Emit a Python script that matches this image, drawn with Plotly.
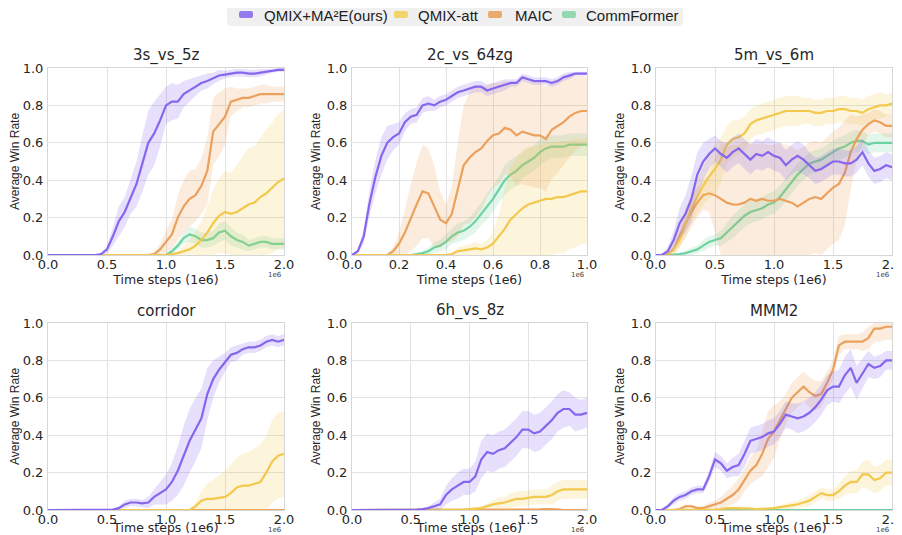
import plotly.graph_objects as go

# ---------------- data ----------------
X_2M = [0.0, 0.05, 0.1, 0.15, 0.2, 0.25, 0.3, 0.35, 0.4, 0.45,
        0.5, 0.55, 0.6, 0.65, 0.7, 0.75, 0.8, 0.85, 0.9, 0.95,
        1.0, 1.05, 1.1, 1.15, 1.2, 1.25, 1.3, 1.35, 1.4, 1.45,
        1.5, 1.55, 1.6, 1.65, 1.7, 1.75, 1.8, 1.85, 1.9, 1.95, 2.0]
X_1M = [0.0, 0.025, 0.05, 0.075, 0.1, 0.125, 0.15, 0.175, 0.2, 0.225,
        0.25, 0.275, 0.3, 0.325, 0.35, 0.375, 0.4, 0.425, 0.45, 0.475,
        0.5, 0.525, 0.55, 0.575, 0.6, 0.625, 0.65, 0.675, 0.7, 0.725,
        0.75, 0.775, 0.8, 0.825, 0.85, 0.875, 0.9, 0.925, 0.95, 0.975, 1.0]

SERIES_NAMES = ["QMIX+MA²E(ours)", "QMIX-att", "MAIC", "CommFormer"]
MAP_TITLES = ["3s_vs_5z", "2c_vs_64zg", "5m_vs_6m", "corridor", "6h_vs_8z", "MMM2"]
X_TICKS_2M = [0.0, 0.5, 1.0, 1.5, 2.0]
X_TICKS_1M = [0.0, 0.2, 0.4, 0.6, 0.8, 1.0]
Y_TICKS = [0.0, 0.2, 0.4, 0.6, 0.8, 1.0]

# 3s_vs_5z
S3S5Z_MA2E = [0, 0, 0, 0, 0, 0, 0, 0, 0, 0.005,
              0.03, 0.10, 0.18, 0.23, 0.31, 0.38, 0.49, 0.60, 0.65, 0.72,
              0.80, 0.82, 0.82, 0.86, 0.88, 0.90, 0.92, 0.93, 0.945, 0.96,
              0.965, 0.97, 0.975, 0.975, 0.97, 0.97, 0.975, 0.98, 0.985, 0.99, 0.99]
S3S5Z_MA2E_SD = [0, 0, 0, 0, 0, 0, 0, 0, 0, 0.005,
                 0.02, 0.05, 0.08, 0.08, 0.09, 0.12, 0.15, 0.17, 0.17, 0.14,
                 0.10, 0.10, 0.09, 0.07, 0.06, 0.05, 0.04, 0.04, 0.03, 0.03,
                 0.02, 0.02, 0.02, 0.02, 0.02, 0.02, 0.02, 0.015, 0.01, 0.01, 0.01]
S3S5Z_ATT = [0, 0, 0, 0, 0, 0, 0, 0, 0, 0,
             0, 0, 0, 0, 0, 0, 0, 0, 0, 0,
             0, 0.005, 0.01, 0.02, 0.03, 0.05, 0.08, 0.12, 0.17, 0.21,
             0.23, 0.22, 0.23, 0.25, 0.27, 0.28, 0.31, 0.33, 0.36, 0.39, 0.41]
S3S5Z_ATT_SD = [0, 0, 0, 0, 0, 0, 0, 0, 0, 0,
                0, 0, 0, 0, 0, 0, 0, 0, 0, 0,
                0, 0.005, 0.01, 0.03, 0.05, 0.08, 0.10, 0.14, 0.18, 0.20,
                0.22, 0.22, 0.25, 0.28, 0.30, 0.30, 0.32, 0.34, 0.35, 0.36, 0.37]
S3S5Z_MAIC = [0, 0, 0, 0, 0, 0, 0, 0, 0, 0,
              0, 0, 0, 0, 0, 0, 0, 0, 0.005, 0.03,
              0.07, 0.11, 0.20, 0.26, 0.30, 0.32, 0.37, 0.45, 0.66, 0.70,
              0.74, 0.82, 0.83, 0.84, 0.84, 0.85, 0.86, 0.86, 0.86, 0.86, 0.86]
S3S5Z_MAIC_SD = [0, 0, 0, 0, 0, 0, 0, 0, 0, 0,
                 0, 0, 0, 0, 0, 0, 0, 0, 0.01, 0.03,
                 0.06, 0.08, 0.12, 0.14, 0.15, 0.14, 0.15, 0.18, 0.18, 0.17,
                 0.15, 0.08, 0.06, 0.05, 0.05, 0.05, 0.05, 0.05, 0.04, 0.04, 0.04]
S3S5Z_COMM = [0, 0, 0, 0, 0, 0, 0, 0, 0, 0,
              0, 0, 0, 0, 0, 0, 0, 0, 0, 0,
              0, 0.02, 0.05, 0.09, 0.11, 0.10, 0.08, 0.08, 0.09, 0.12,
              0.13, 0.10, 0.08, 0.07, 0.05, 0.06, 0.07, 0.07, 0.06, 0.06, 0.06]
S3S5Z_COMM_SD = [0, 0, 0, 0, 0, 0, 0, 0, 0, 0,
                 0, 0, 0, 0, 0, 0, 0, 0, 0, 0,
                 0, 0.01, 0.02, 0.03, 0.04, 0.04, 0.04, 0.04, 0.04, 0.05,
                 0.05, 0.05, 0.04, 0.04, 0.03, 0.03, 0.03, 0.03, 0.03, 0.03, 0.03]

# 2c_vs_64zg
S2C64ZG_MA2E = [0, 0.02, 0.10, 0.28, 0.42, 0.53, 0.60, 0.63, 0.65, 0.71,
                0.74, 0.75, 0.80, 0.81, 0.80, 0.82, 0.83, 0.85, 0.87, 0.88,
                0.89, 0.90, 0.90, 0.88, 0.89, 0.90, 0.91, 0.92, 0.92, 0.95,
                0.94, 0.93, 0.93, 0.93, 0.92, 0.93, 0.95, 0.96, 0.97, 0.97, 0.97]
S2C64ZG_MA2E_SD = [0, 0.01, 0.04, 0.07, 0.09, 0.10, 0.09, 0.07, 0.06, 0.05,
                   0.04, 0.04, 0.04, 0.04, 0.03, 0.03, 0.03, 0.03, 0.03, 0.03,
                   0.03, 0.03, 0.03, 0.03, 0.03, 0.03, 0.03, 0.02, 0.02, 0.02,
                   0.02, 0.02, 0.02, 0.02, 0.02, 0.02, 0.02, 0.02, 0.01, 0.01, 0.01]
S2C64ZG_ATT = [0, 0, 0, 0, 0, 0, 0, 0, 0, 0,
               0, 0, 0, 0, 0, 0, 0, 0.005, 0.02, 0.025,
               0.03, 0.035, 0.03, 0.04, 0.06, 0.10, 0.14, 0.19, 0.22, 0.25,
               0.27, 0.28, 0.29, 0.30, 0.30, 0.31, 0.31, 0.32, 0.33, 0.34, 0.34]
S2C64ZG_ATT_SD = [0, 0, 0, 0, 0, 0, 0, 0, 0, 0,
                  0, 0, 0, 0, 0, 0, 0, 0.005, 0.02, 0.025,
                  0.03, 0.035, 0.03, 0.04, 0.06, 0.12, 0.22, 0.28, 0.30, 0.31,
                  0.31, 0.30, 0.30, 0.30, 0.30, 0.30, 0.30, 0.29, 0.29, 0.28, 0.28]
S2C64ZG_MAIC = [0, 0, 0, 0, 0, 0, 0, 0.02, 0.06, 0.12,
                0.20, 0.27, 0.34, 0.33, 0.26, 0.19, 0.17, 0.22, 0.35, 0.48,
                0.52, 0.55, 0.57, 0.61, 0.64, 0.65, 0.68, 0.67, 0.64, 0.66,
                0.65, 0.64, 0.64, 0.62, 0.67, 0.69, 0.71, 0.74, 0.76, 0.77, 0.77]
S2C64ZG_MAIC_SD = [0, 0, 0, 0, 0, 0, 0, 0.02, 0.06, 0.12,
                   0.18, 0.22, 0.25, 0.24, 0.22, 0.15, 0.10, 0.15, 0.25, 0.32,
                   0.35, 0.35, 0.33, 0.30, 0.28, 0.27, 0.25, 0.25, 0.27, 0.28,
                   0.28, 0.28, 0.28, 0.28, 0.26, 0.25, 0.23, 0.22, 0.20, 0.19, 0.18]
S2C64ZG_COMM = [0, 0, 0, 0, 0, 0, 0, 0, 0, 0,
                0, 0.005, 0.01, 0.02, 0.04, 0.05, 0.07, 0.10, 0.12, 0.13,
                0.15, 0.18, 0.22, 0.26, 0.30, 0.35, 0.40, 0.43, 0.45, 0.48,
                0.50, 0.52, 0.55, 0.57, 0.58, 0.58, 0.58, 0.59, 0.59, 0.59, 0.59]
S2C64ZG_COMM_SD = [0, 0, 0, 0, 0, 0, 0, 0, 0, 0,
                   0, 0.005, 0.01, 0.02, 0.03, 0.03, 0.04, 0.04, 0.05, 0.05,
                   0.05, 0.06, 0.06, 0.07, 0.07, 0.07, 0.08, 0.08, 0.08, 0.07,
                   0.07, 0.07, 0.07, 0.07, 0.06, 0.06, 0.06, 0.06, 0.06, 0.06, 0.06]

# 5m_vs_6m
S5M6M_MA2E = [0, 0.0, 0.02, 0.08, 0.17, 0.22, 0.30, 0.43, 0.50, 0.54,
              0.57, 0.54, 0.52, 0.55, 0.57, 0.54, 0.51, 0.54, 0.53, 0.55,
              0.53, 0.52, 0.48, 0.51, 0.53, 0.51, 0.48, 0.45, 0.46, 0.48,
              0.50, 0.50, 0.49, 0.49, 0.51, 0.55, 0.49, 0.45, 0.46, 0.48, 0.47]
S5M6M_MA2E_SD = [0, 0.005, 0.02, 0.05, 0.08, 0.10, 0.12, 0.12, 0.10, 0.08,
                 0.07, 0.07, 0.08, 0.08, 0.08, 0.08, 0.08, 0.08, 0.08, 0.08,
                 0.08, 0.08, 0.08, 0.08, 0.08, 0.08, 0.07, 0.07, 0.07, 0.07,
                 0.07, 0.07, 0.07, 0.07, 0.07, 0.07, 0.07, 0.07, 0.07, 0.07, 0.07]
S5M6M_ATT = [0, 0, 0.005, 0.03, 0.08, 0.17, 0.25, 0.31, 0.37, 0.42,
             0.46, 0.51, 0.59, 0.62, 0.63, 0.65, 0.70, 0.72, 0.73, 0.74,
             0.75, 0.76, 0.77, 0.77, 0.77, 0.77, 0.77, 0.76, 0.76, 0.77,
             0.77, 0.78, 0.78, 0.77, 0.77, 0.76, 0.78, 0.79, 0.80, 0.80, 0.81]
S5M6M_ATT_SD = [0, 0, 0.005, 0.02, 0.04, 0.07, 0.08, 0.09, 0.10, 0.12,
                0.14, 0.12, 0.10, 0.10, 0.09, 0.09, 0.08, 0.08, 0.08, 0.08,
                0.08, 0.08, 0.08, 0.08, 0.08, 0.07, 0.07, 0.07, 0.07, 0.07,
                0.07, 0.07, 0.07, 0.07, 0.07, 0.07, 0.07, 0.07, 0.07, 0.06, 0.06]
S5M6M_MAIC = [0, 0, 0.005, 0.03, 0.10, 0.17, 0.23, 0.28, 0.32, 0.33,
              0.32, 0.30, 0.28, 0.27, 0.27, 0.28, 0.30, 0.29, 0.30, 0.29,
              0.29, 0.30, 0.29, 0.28, 0.26, 0.28, 0.30, 0.31, 0.30, 0.33,
              0.36, 0.38, 0.44, 0.55, 0.62, 0.67, 0.70, 0.72, 0.71, 0.69, 0.69]
S5M6M_MAIC_SD = [0, 0, 0.005, 0.03, 0.06, 0.08, 0.08, 0.08, 0.08, 0.10,
                 0.20, 0.30, 0.30, 0.32, 0.32, 0.32, 0.30, 0.30, 0.30, 0.30,
                 0.30, 0.30, 0.30, 0.30, 0.30, 0.30, 0.30, 0.30, 0.30, 0.30,
                 0.30, 0.30, 0.28, 0.20, 0.12, 0.08, 0.06, 0.06, 0.06, 0.06, 0.06]
S5M6M_COMM = [0, 0, 0, 0.002, 0.005, 0.01, 0.02, 0.03, 0.05, 0.07,
              0.08, 0.09, 0.12, 0.15, 0.18, 0.21, 0.23, 0.24, 0.25, 0.27,
              0.28, 0.31, 0.35, 0.39, 0.43, 0.46, 0.49, 0.50, 0.51, 0.53,
              0.55, 0.57, 0.58, 0.60, 0.61, 0.61, 0.59, 0.60, 0.60, 0.60, 0.60]
S5M6M_COMM_SD = [0, 0, 0, 0.002, 0.005, 0.01, 0.02, 0.02, 0.03, 0.03,
                 0.03, 0.04, 0.05, 0.06, 0.06, 0.06, 0.06, 0.06, 0.06, 0.06,
                 0.06, 0.06, 0.06, 0.06, 0.06, 0.06, 0.06, 0.06, 0.06, 0.06,
                 0.06, 0.06, 0.06, 0.06, 0.06, 0.05, 0.05, 0.05, 0.05, 0.05, 0.05]

# corridor
CORRIDOR_MA2E = [0, 0, 0, 0, 0, 0, 0, 0, 0, 0,
                 0, 0.002, 0.01, 0.03, 0.04, 0.04, 0.035, 0.04, 0.07, 0.09,
                 0.11, 0.15, 0.21, 0.29, 0.37, 0.43, 0.49, 0.62, 0.70, 0.75,
                 0.79, 0.83, 0.84, 0.86, 0.87, 0.87, 0.88, 0.90, 0.91, 0.90, 0.91]
CORRIDOR_MA2E_SD = [0, 0, 0, 0, 0, 0, 0, 0, 0, 0,
                    0, 0.002, 0.01, 0.02, 0.02, 0.02, 0.02, 0.03, 0.04, 0.06,
                    0.08, 0.10, 0.13, 0.16, 0.17, 0.17, 0.16, 0.14, 0.10, 0.07,
                    0.05, 0.04, 0.04, 0.03, 0.03, 0.03, 0.03, 0.03, 0.03, 0.03, 0.03]
CORRIDOR_ATT = [0, 0, 0, 0, 0, 0, 0, 0, 0, 0,
                0, 0, 0, 0, 0, 0, 0, 0, 0, 0,
                0, 0, 0, 0, 0, 0.02, 0.05, 0.06, 0.06, 0.065,
                0.07, 0.09, 0.12, 0.13, 0.13, 0.14, 0.15, 0.20, 0.26, 0.29, 0.30]
CORRIDOR_ATT_SD = [0, 0, 0, 0, 0, 0, 0, 0, 0, 0,
                   0, 0, 0, 0, 0, 0, 0, 0, 0, 0,
                   0, 0, 0, 0, 0, 0.02, 0.05, 0.08, 0.10, 0.12,
                   0.14, 0.15, 0.16, 0.17, 0.18, 0.19, 0.20, 0.20, 0.22, 0.23, 0.23]
CORRIDOR_MAIC = [0] * 41
CORRIDOR_MAIC_SD = [0] * 41
CORRIDOR_COMM = [0] * 41
CORRIDOR_COMM_SD = [0] * 41

# 6h_vs_8z
S6H8Z_MA2E = [0, 0, 0, 0, 0, 0, 0, 0, 0, 0,
              0, 0.002, 0.005, 0.01, 0.02, 0.03, 0.08, 0.11, 0.13, 0.15,
              0.15, 0.18, 0.27, 0.31, 0.30, 0.32, 0.33, 0.36, 0.39, 0.43,
              0.43, 0.41, 0.42, 0.45, 0.48, 0.52, 0.54, 0.54, 0.51, 0.51, 0.52]
S6H8Z_MA2E_SD = [0, 0, 0, 0, 0, 0, 0, 0, 0, 0,
                 0, 0.002, 0.005, 0.01, 0.02, 0.03, 0.05, 0.06, 0.07, 0.07,
                 0.07, 0.08, 0.10, 0.10, 0.10, 0.10, 0.10, 0.10, 0.10, 0.10,
                 0.10, 0.10, 0.10, 0.10, 0.10, 0.10, 0.10, 0.09, 0.09, 0.08, 0.08]
S6H8Z_ATT = [0, 0, 0, 0, 0, 0, 0, 0, 0, 0,
             0, 0, 0, 0, 0, 0, 0, 0, 0, 0.002,
             0.005, 0.008, 0.01, 0.02, 0.03, 0.035, 0.04, 0.05, 0.06, 0.06,
             0.065, 0.07, 0.07, 0.07, 0.08, 0.10, 0.11, 0.11, 0.11, 0.11, 0.11]
S6H8Z_ATT_SD = [0, 0, 0, 0, 0, 0, 0, 0, 0, 0,
                0, 0, 0, 0, 0, 0, 0, 0, 0, 0.002,
                0.005, 0.008, 0.01, 0.015, 0.02, 0.03, 0.03, 0.04, 0.04, 0.04,
                0.04, 0.04, 0.04, 0.04, 0.05, 0.05, 0.05, 0.05, 0.05, 0.05, 0.05]
S6H8Z_MAIC = [0, 0, 0, 0, 0, 0, 0, 0, 0, 0,
              0, 0, 0, 0, 0, 0, 0, 0, 0, 0,
              0, 0, 0, 0, 0, 0, 0, 0, 0, 0,
              0, 0, 0.003, 0.005, 0.005, 0.004, 0, 0, 0, 0, 0]
S6H8Z_MAIC_SD = [0, 0, 0, 0, 0, 0, 0, 0, 0, 0,
                 0, 0, 0, 0, 0, 0, 0, 0, 0, 0,
                 0, 0, 0, 0, 0, 0, 0, 0, 0, 0,
                 0, 0, 0.003, 0.005, 0.005, 0.004, 0, 0, 0, 0, 0]
S6H8Z_COMM = [0] * 41
S6H8Z_COMM_SD = [0] * 41

# MMM2
MMM2_MA2E = [0, 0, 0.02, 0.05, 0.07, 0.08, 0.10, 0.11, 0.11, 0.18,
             0.27, 0.25, 0.21, 0.23, 0.24, 0.30, 0.37, 0.38, 0.39, 0.41,
             0.42, 0.46, 0.51, 0.50, 0.49, 0.50, 0.52, 0.55, 0.59, 0.64,
             0.66, 0.66, 0.72, 0.76, 0.68, 0.73, 0.78, 0.76, 0.77, 0.80, 0.80]
MMM2_MA2E_SD = [0, 0, 0.01, 0.02, 0.02, 0.02, 0.02, 0.02, 0.02, 0.03,
                0.04, 0.04, 0.04, 0.05, 0.06, 0.07, 0.07, 0.07, 0.07, 0.07,
                0.07, 0.07, 0.07, 0.07, 0.08, 0.08, 0.08, 0.08, 0.08, 0.08,
                0.08, 0.09, 0.10, 0.10, 0.09, 0.08, 0.07, 0.06, 0.06, 0.05, 0.05]
MMM2_ATT = [0, 0, 0, 0, 0, 0, 0, 0, 0, 0,
            0.002, 0.005, 0.01, 0.01, 0.01, 0.01, 0.008, 0.005, 0.005, 0.008,
            0.01, 0.015, 0.02, 0.025, 0.03, 0.04, 0.05, 0.07, 0.09, 0.08,
            0.08, 0.10, 0.13, 0.15, 0.15, 0.19, 0.19, 0.16, 0.17, 0.20, 0.20]
MMM2_ATT_SD = [0, 0, 0, 0, 0, 0, 0, 0, 0, 0,
               0.002, 0.004, 0.006, 0.006, 0.006, 0.006, 0.006, 0.005, 0.005, 0.006,
               0.008, 0.01, 0.015, 0.02, 0.02, 0.025, 0.03, 0.03, 0.03, 0.03,
               0.03, 0.04, 0.05, 0.06, 0.06, 0.07, 0.08, 0.07, 0.07, 0.07, 0.07]
MMM2_MAIC = [0, 0, 0, 0, 0.005, 0.02, 0.02, 0.01, 0.01, 0.02,
             0.03, 0.04, 0.06, 0.08, 0.11, 0.16, 0.21, 0.24, 0.30, 0.38,
             0.42, 0.48, 0.54, 0.60, 0.63, 0.66, 0.63, 0.61, 0.62, 0.68,
             0.75, 0.88, 0.90, 0.90, 0.90, 0.90, 0.92, 0.97, 0.97, 0.98, 0.98]
MMM2_MAIC_SD = [0, 0, 0, 0, 0.005, 0.01, 0.01, 0.01, 0.01, 0.02,
                0.02, 0.03, 0.04, 0.05, 0.06, 0.06, 0.07, 0.08, 0.12, 0.15,
                0.14, 0.10, 0.08, 0.08, 0.08, 0.08, 0.08, 0.08, 0.07, 0.06,
                0.05, 0.05, 0.04, 0.04, 0.04, 0.05, 0.06, 0.07, 0.07, 0.07, 0.07]
MMM2_COMM = [0] * 41
MMM2_COMM_SD = [0] * 41

# ---------------- style ----------------
LINE_COLORS = ["#8766ee", "#f2c94c", "#eba05b", "#6cd3a0"]
BAND_COLORS = ["rgba(135,102,238,0.2)", "rgba(242,201,76,0.2)",
               "rgba(235,160,91,0.2)", "rgba(108,211,160,0.2)"]
LEGEND_COLORS = ["#9579f0", "#efd56c", "#e9aa6d", "#93d8b1"]

OFF = 8                       # page body margin offset
W, H = 902 - OFF, 535 - OFF   # figure size
COL_PX = [(48, 284), (352, 587), (656, 892)]   # in screen pixels
ROW_PX = [(68, 255), (323, 510)]


def PX(v):
    return (v - OFF) / W


def PY(v):
    return 1 - (v - OFF) / H


panels = [
    (X_2M, X_TICKS_2M, [(S3S5Z_MA2E, S3S5Z_MA2E_SD), (S3S5Z_ATT, S3S5Z_ATT_SD),
                        (S3S5Z_MAIC, S3S5Z_MAIC_SD), (S3S5Z_COMM, S3S5Z_COMM_SD)]),
    (X_1M, X_TICKS_1M, [(S2C64ZG_MA2E, S2C64ZG_MA2E_SD), (S2C64ZG_ATT, S2C64ZG_ATT_SD),
                        (S2C64ZG_MAIC, S2C64ZG_MAIC_SD), (S2C64ZG_COMM, S2C64ZG_COMM_SD)]),
    (X_2M, X_TICKS_2M, [(S5M6M_MA2E, S5M6M_MA2E_SD), (S5M6M_ATT, S5M6M_ATT_SD),
                        (S5M6M_MAIC, S5M6M_MAIC_SD), (S5M6M_COMM, S5M6M_COMM_SD)]),
    (X_2M, X_TICKS_2M, [(CORRIDOR_MA2E, CORRIDOR_MA2E_SD), (CORRIDOR_ATT, CORRIDOR_ATT_SD),
                        (CORRIDOR_MAIC, CORRIDOR_MAIC_SD), (CORRIDOR_COMM, CORRIDOR_COMM_SD)]),
    (X_2M, X_TICKS_2M, [(S6H8Z_MA2E, S6H8Z_MA2E_SD), (S6H8Z_ATT, S6H8Z_ATT_SD),
                        (S6H8Z_MAIC, S6H8Z_MAIC_SD), (S6H8Z_COMM, S6H8Z_COMM_SD)]),
    (X_2M, X_TICKS_2M, [(MMM2_MA2E, MMM2_MA2E_SD), (MMM2_ATT, MMM2_ATT_SD),
                        (MMM2_MAIC, MMM2_MAIC_SD), (MMM2_COMM, MMM2_COMM_SD)]),
]

DRAW_ORDER = [3, 2, 1, 0]  # CommFormer, MAIC, QMIX-att, then ours on top

fig = go.Figure()
layout = dict(width=W, height=H, margin=dict(l=0, r=0, t=0, b=0),
              paper_bgcolor="white", plot_bgcolor="white", showlegend=False,
              annotations=[], shapes=[])

TXT = "#262626"
for k, (xs, xt, series) in enumerate(panels):
    idx = k + 1
    sfx = "" if idx == 1 else str(idx)
    r, c = divmod(k, 3)
    (cx0, cx1), (ry0, ry1) = COL_PX[c], ROW_PX[r]
    for si in DRAW_ORDER:
        mean, sd = series[si]
        up = [min(1.0, m + s) for m, s in zip(mean, sd)]
        lo = [max(0.0, m - s) for m, s in zip(mean, sd)]
        fig.add_trace(go.Scatter(x=xs + xs[::-1], y=up + lo[::-1], fill="toself",
                                 fillcolor=BAND_COLORS[si], line=dict(width=0),
                                 hoverinfo="skip", xaxis="x" + sfx, yaxis="y" + sfx))
        fig.add_trace(go.Scatter(x=xs, y=mean, mode="lines", name=SERIES_NAMES[si],
                                 line=dict(color=LINE_COLORS[si], width=2.2),
                                 xaxis="x" + sfx, yaxis="y" + sfx))
    layout["xaxis" + sfx] = dict(
        domain=[PX(cx0), PX(cx1)], anchor="y" + sfx, range=[xt[0], xt[-1]],
        tickvals=xt, ticktext=["%.1f" % v for v in xt], showgrid=True,
        gridcolor="#e2e2e2", showline=True, mirror=True, linecolor="#d6d6d6",
        zeroline=False, ticks="", ticklabelstandoff=-3, ticklabeloverflow="allow",
        tickfont=dict(family="DejaVu Sans", size=13, color=TXT),
        title=dict(text="Time steps (1e6)", standoff=2,
                   font=dict(family="DejaVu Sans", size=12.5, color=TXT)),
        automargin=False)
    layout["yaxis" + sfx] = dict(
        domain=[PY(ry1), PY(ry0)], anchor="x" + sfx, range=[0, 1],
        tickvals=Y_TICKS, ticktext=["%.1f" % v for v in Y_TICKS], showgrid=True,
        gridcolor="#e2e2e2", showline=True, mirror=True, linecolor="#d6d6d6",
        zeroline=False, ticks="", ticklabelstandoff=1,
        tickfont=dict(family="DejaVu Sans", size=13, color=TXT),
        title=dict(text="Average Win Rate", standoff=3,
                   font=dict(family="Liberation Sans", size=12, color=TXT)),
        automargin=False)
    layout["annotations"].append(dict(
        text=MAP_TITLES[k], xref="x%s domain" % sfx, yref="y%s domain" % sfx,
        x=0.5, y=1, xanchor="center", yanchor="bottom", yshift=1, showarrow=False,
        font=dict(family="DejaVu Sans", size=15, color=TXT)))
    layout["annotations"].append(dict(
        text="1e6", xref="x%s domain" % sfx, yref="y%s domain" % sfx,
        x=1, y=0, xanchor="right", yanchor="top", yshift=-14, showarrow=False,
        font=dict(family="DejaVu Sans", size=7, color="#444")))


# ---------------- legend (top centre) ----------------
def rrect(x0, y0, x1, y1, rad):
    return ("M{a},{b} L{c},{b} Q{d},{b} {d},{e} L{d},{f} Q{d},{g} {c},{g} "
            "L{a},{g} Q{h},{g} {h},{f} L{h},{e} Q{h},{b} {a},{b} Z").format(
        a=PX(x0 + rad), b=PY(y0), c=PX(x1 - rad), d=PX(x1), e=PY(y0 + rad),
        f=PY(y1 - rad), g=PY(y1), h=PX(x0))


layout["shapes"].append(dict(type="path", xref="paper", yref="paper",
                             path=rrect(227, 4, 683, 26, 4),
                             fillcolor="#f0f0f0", line=dict(width=0), layer="below"))
ICON_X = [239, 394, 488, 562]
TEXT_X = [262, 416, 513, 584]
for si in range(4):
    layout["shapes"].append(dict(type="path", xref="paper", yref="paper",
                                 path=rrect(ICON_X[si], 11, ICON_X[si] + 14, 18, 2),
                                 fillcolor=LEGEND_COLORS[si], line=dict(width=0)))
    layout["annotations"].append(dict(
        text=SERIES_NAMES[si], xref="paper", yref="paper", x=PX(TEXT_X[si]),
        y=PY(15), xanchor="left", yanchor="middle", showarrow=False,
        font=dict(family="Liberation Sans", size=15, color="#222222")))

fig.update_layout(**layout)
fig.write_html("out.html")
